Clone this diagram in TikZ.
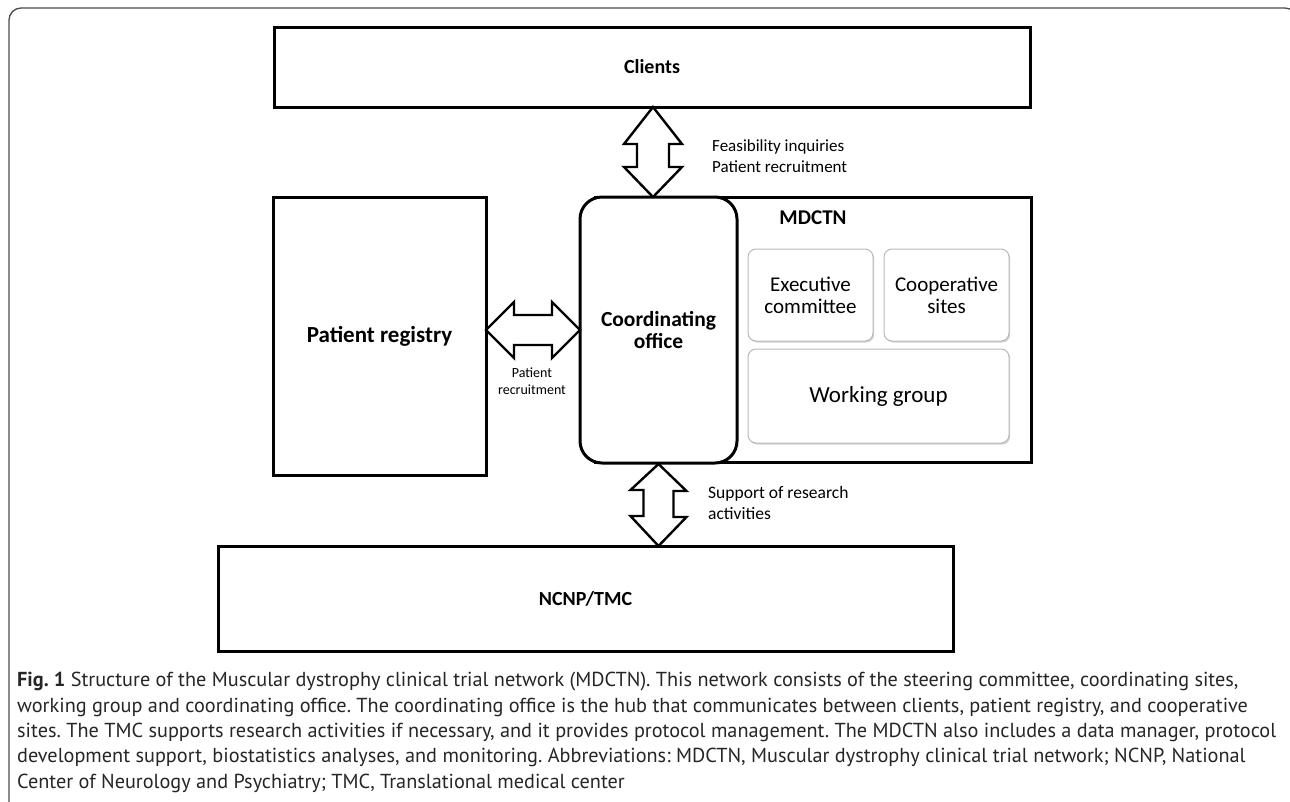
\documentclass[tikz,border=0pt]{standalone}
\usepackage{fontspec}
\setmainfont{Carlito}
\newfontfamily\capfont{PT Sans}
\usetikzlibrary{positioning, calc, shadows}

\newlength\caplen
\def\capthree{sites. The TMC supports research activities if necessary, and it provides protocol management. The MDCTN also includes a data manager, protocol}

\tikzset{
  mainbox/.style={draw, line width=3pt, outer sep=0pt, inner sep=0pt, fill=white,
    font=\bfseries\fontsize{20}{24}\selectfont},
  subbox/.style={draw=gray!55, line width=1pt, rounded corners=8pt, outer sep=0pt,
    fill=white, drop shadow={shadow xshift=1.2pt, shadow yshift=-1.5pt, opacity=0.35},
    align=center, font=\fontsize{21}{22}\selectfont},
  blockarrow/.style={draw, line width=2.4pt, fill=white, line join=miter},
  note/.style={inner sep=0pt, font=\fontsize{17}{21}\selectfont},
  capline/.style={anchor=base west, inner sep=0pt, text=black!85,
    font=\capfont\frenchspacing\fontsize{\capsize}{25}\selectfont},
}

\begin{document}
% caption size: the longest line is 1259 wide
\settowidth\caplen{\capfont\frenchspacing\fontsize{10}{12}\selectfont\capthree}
\pgfmathsetmacro\capsize{10*1259/\caplen}
\begin{tikzpicture}[x=1pt, y=-1pt]
    \clip (0,0) rectangle (1290,801);
    \fill[white] (0,0) rectangle (1290,801);

    % Frame
    \draw[black!70, line width=1.3pt, rounded corners=12pt] (9,8) rectangle (1297,830);

    % Clients & NCNP/TMC
    \node[mainbox, minimum width=756, minimum height=80] (clients) at (652,67) {Clients};
    \node[mainbox, minimum width=735, minimum height=105] (ncnp) at (585.5,598.5) {NCNP/TMC};

    % Patient registry
    \node[mainbox, minimum width=213, minimum height=278, font=\bfseries\fontsize{23}{26}\selectfont]
      (registry) at (379.5,336) {Patient registry};

    % MDCTN
    \node[mainbox, minimum width=436, minimum height=265] (mdctn) at (813,329.5) {};
    \node[font=\bfseries\fontsize{21}{24}\selectfont] (mdctnlabel) at (813,218) {MDCTN};
    \node[mainbox, rounded corners=22pt, minimum width=157, minimum height=266, align=center,
      font=\bfseries\fontsize{21.5}{22}\selectfont] (office) at (658.5,330) {Coordinating\\office};

    \node[subbox, minimum width=125, minimum height=92] (exec) at (810.5,295) {Executive\\committee};
    \node[subbox, minimum width=125, minimum height=92] (coop) at (946.5,295) {Cooperative\\sites};
    \node[subbox, minimum width=261, minimum height=94, font=\fontsize{23}{26}\selectfont]
      (working) at (878.5,396) {Working group};

    % Arrows
    \coordinate (ta) at ($(clients.south)+(1,0)$);
    \coordinate (tb) at (ta |- mdctn.north);
    \draw[blockarrow] (ta) -- ++(29,37) -- ++(-13,0) -- ++(0,23) -- ++(13,0) -- (tb)
      -- ++(-29,-30) -- ++(13,0) -- ++(0,-23) -- ++(-13,0) -- cycle;

    \coordinate (lt) at (registry.east |- office.west);
    \coordinate (rt) at (office.west);
    \draw[blockarrow] (lt) -- ++(28,-28) -- ++(0,13) -- ++(38,0) -- ++(0,-13) -- (rt)
      -- ++(-28,28) -- ++(0,-13) -- ++(-38,0) -- ++(0,13) -- cycle;

    \coordinate (bt) at ($(office.south)+(0,1)$);
    \coordinate (bb) at (bt |- ncnp.north);
    \draw[blockarrow] (bt) -- ++(28,27) -- ++(-13,0) -- ++(0,26) -- ++(13,0) -- (bb)
      -- ++(-28,-30) -- ++(13,0) -- ++(0,-26) -- ++(-13,0) -- cycle;

    % Arrow labels
    \node[note, anchor=west, align=left] (feas) at (712,156) {Feasibility inquiries\\Patient recruitment};
    \node[note, align=center, font=\fontsize{14}{17}\selectfont] (recruit) at (532,381) {Patient\\recruitment};
    \node[note, anchor=west, align=left, font=\fontsize{17.5}{21}\selectfont] (support) at (708,503)
      {Support of research\\activities};

    % Caption
    \node[capline] (cap1) at (17,686) {\textbf{Fig. 1} Structure of the Muscular dystrophy clinical trial network (MDCTN). This network consists of the steering committee, coordinating sites,};
    \node[capline] (cap2) at (17,712) {working group and coordinating office. The coordinating office is the hub that communicates between clients, patient registry, and cooperative};
    \node[capline] (cap3) at (17,737) {\capthree};
    \node[capline] (cap4) at (17,762) {development support, biostatistics analyses, and monitoring. Abbreviations: MDCTN, Muscular dystrophy clinical trial network; NCNP, National};
    \node[capline] (cap5) at (17,788) {Center of Neurology and Psychiatry; TMC, Translational medical center};
\end{tikzpicture}
\end{document}
